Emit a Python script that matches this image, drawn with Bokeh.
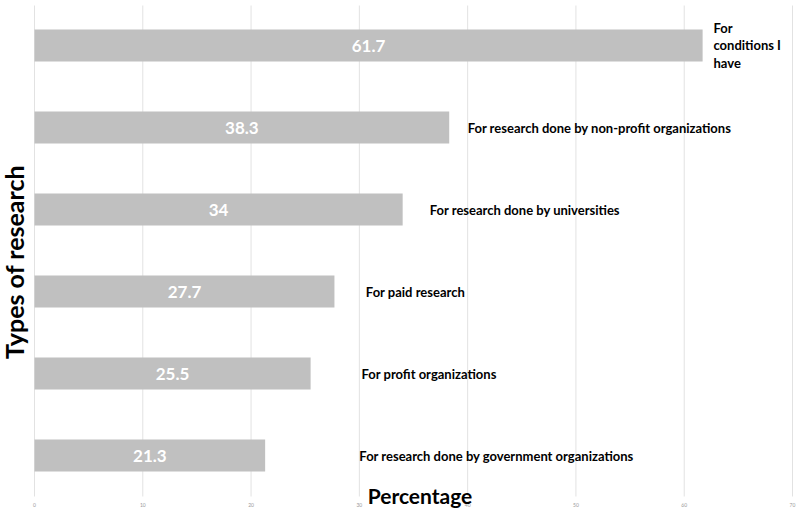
import numpy as np
from bokeh.plotting import figure
from bokeh.models import ColumnDataSource, Range1d
from bokeh.core.properties import value
from bokeh.embed import file_html
from bokeh.resources import INLINE

# data (top to bottom)
categories = [
    "For conditions I have",
    "For research done by non-profit organizations",
    "For research done by universities",
    "For paid research",
    "For profit organizations",
    "For research done by government organizations",
]
display_labels = [
    "For\nconditions I\nhave",
    "For research done by non-profit organizations",
    "For research done by universities",
    "For paid research",
    "For profit organizations",
    "For research done by government organizations",
]
percentages = [61.7, 38.3, 34, 27.7, 25.5, 21.3]
value_labels = ["61.7", "38.3", "34", "27.7", "25.5", "21.3"]
label_anchor_x = [62.7, 40.0, 36.5, 30.6, 30.2, 30.0]
x_ticks = [0, 10, 20, 30, 40, 50, 60, 70]
x_tick_labels = ["0", "10", "20", "30", "40", "50", "60", "70"]
x_title = "Percentage"
y_title = "Types of research"

n = len(categories)
ypos = list(np.arange(n)[::-1].astype(float))

src = ColumnDataSource(dict(
    y=ypos,
    val=percentages,
    half=[v / 2 for v in percentages],
    vlab=value_labels,
    lab=display_labels,
    lx=label_anchor_x,
))

FONT = "Lato"
W, H = 800, 511
# pixel placement of the plotting area: x=0 at 34px, x=70 at 792px
pxu = (792 - 34) / 70.0
pyu = 82.0
x0 = -34 / pxu
x1 = 70 + (W - 792) / pxu
y_bottom = -(H - 455) / pyu
y_top = 5 + 45 / pyu
grid_bottom = -0.5
grid_top = 5 + 40 / pyu

p = figure(width=W, height=H, output_backend="svg", toolbar_location=None,
           x_range=Range1d(x0, x1), y_range=Range1d(y_bottom, y_top),
           min_border_left=0, min_border_right=0, min_border_top=0,
           min_border_bottom=0)
p.outline_line_color = None
p.axis.visible = False
p.grid.visible = False

# vertical gridlines
p.segment(x0=x_ticks, x1=x_ticks, y0=[grid_bottom] * len(x_ticks),
          y1=[grid_top] * len(x_ticks), line_color="#e2e2e2", line_width=1)

# tick labels
p.text(x=x_ticks, y=[grid_bottom - 0.1] * len(x_ticks), text=x_tick_labels,
       text_align="center", text_baseline="middle", text_color="#9a9a9a",
       text_font=value(FONT), text_font_size="5px")

p.hbar(y="y", right="val", left=0, height=0.39, source=src,
       fill_color="#c0c0c0", line_color=None)

p.text(x="half", y="y", text="vlab", source=src, text_align="center",
       text_baseline="middle", text_color="white", text_font=value(FONT),
       text_font_style="bold", text_font_size="17px")

p.text(x="lx", y="y", text="lab", source=src, text_align="left",
       text_baseline="middle", text_color="black", text_font=value(FONT),
       text_font_style="bold", text_font_size="13px", text_line_height=1.1)

p.text(x=[35.6], y=[-0.49], text=[x_title], text_align="center",
       text_baseline="middle", text_font=value(FONT), text_font_style="bold",
       text_font_size="21px", text_color="black")
p.text(x=[-1.9], y=[2.36], text=[y_title], angle=np.pi / 2,
       text_align="center", text_baseline="middle", text_font=value(FONT),
       text_font_style="bold", text_font_size="25px", text_color="black")

open("out.html", "w").write(file_html(p, INLINE))
